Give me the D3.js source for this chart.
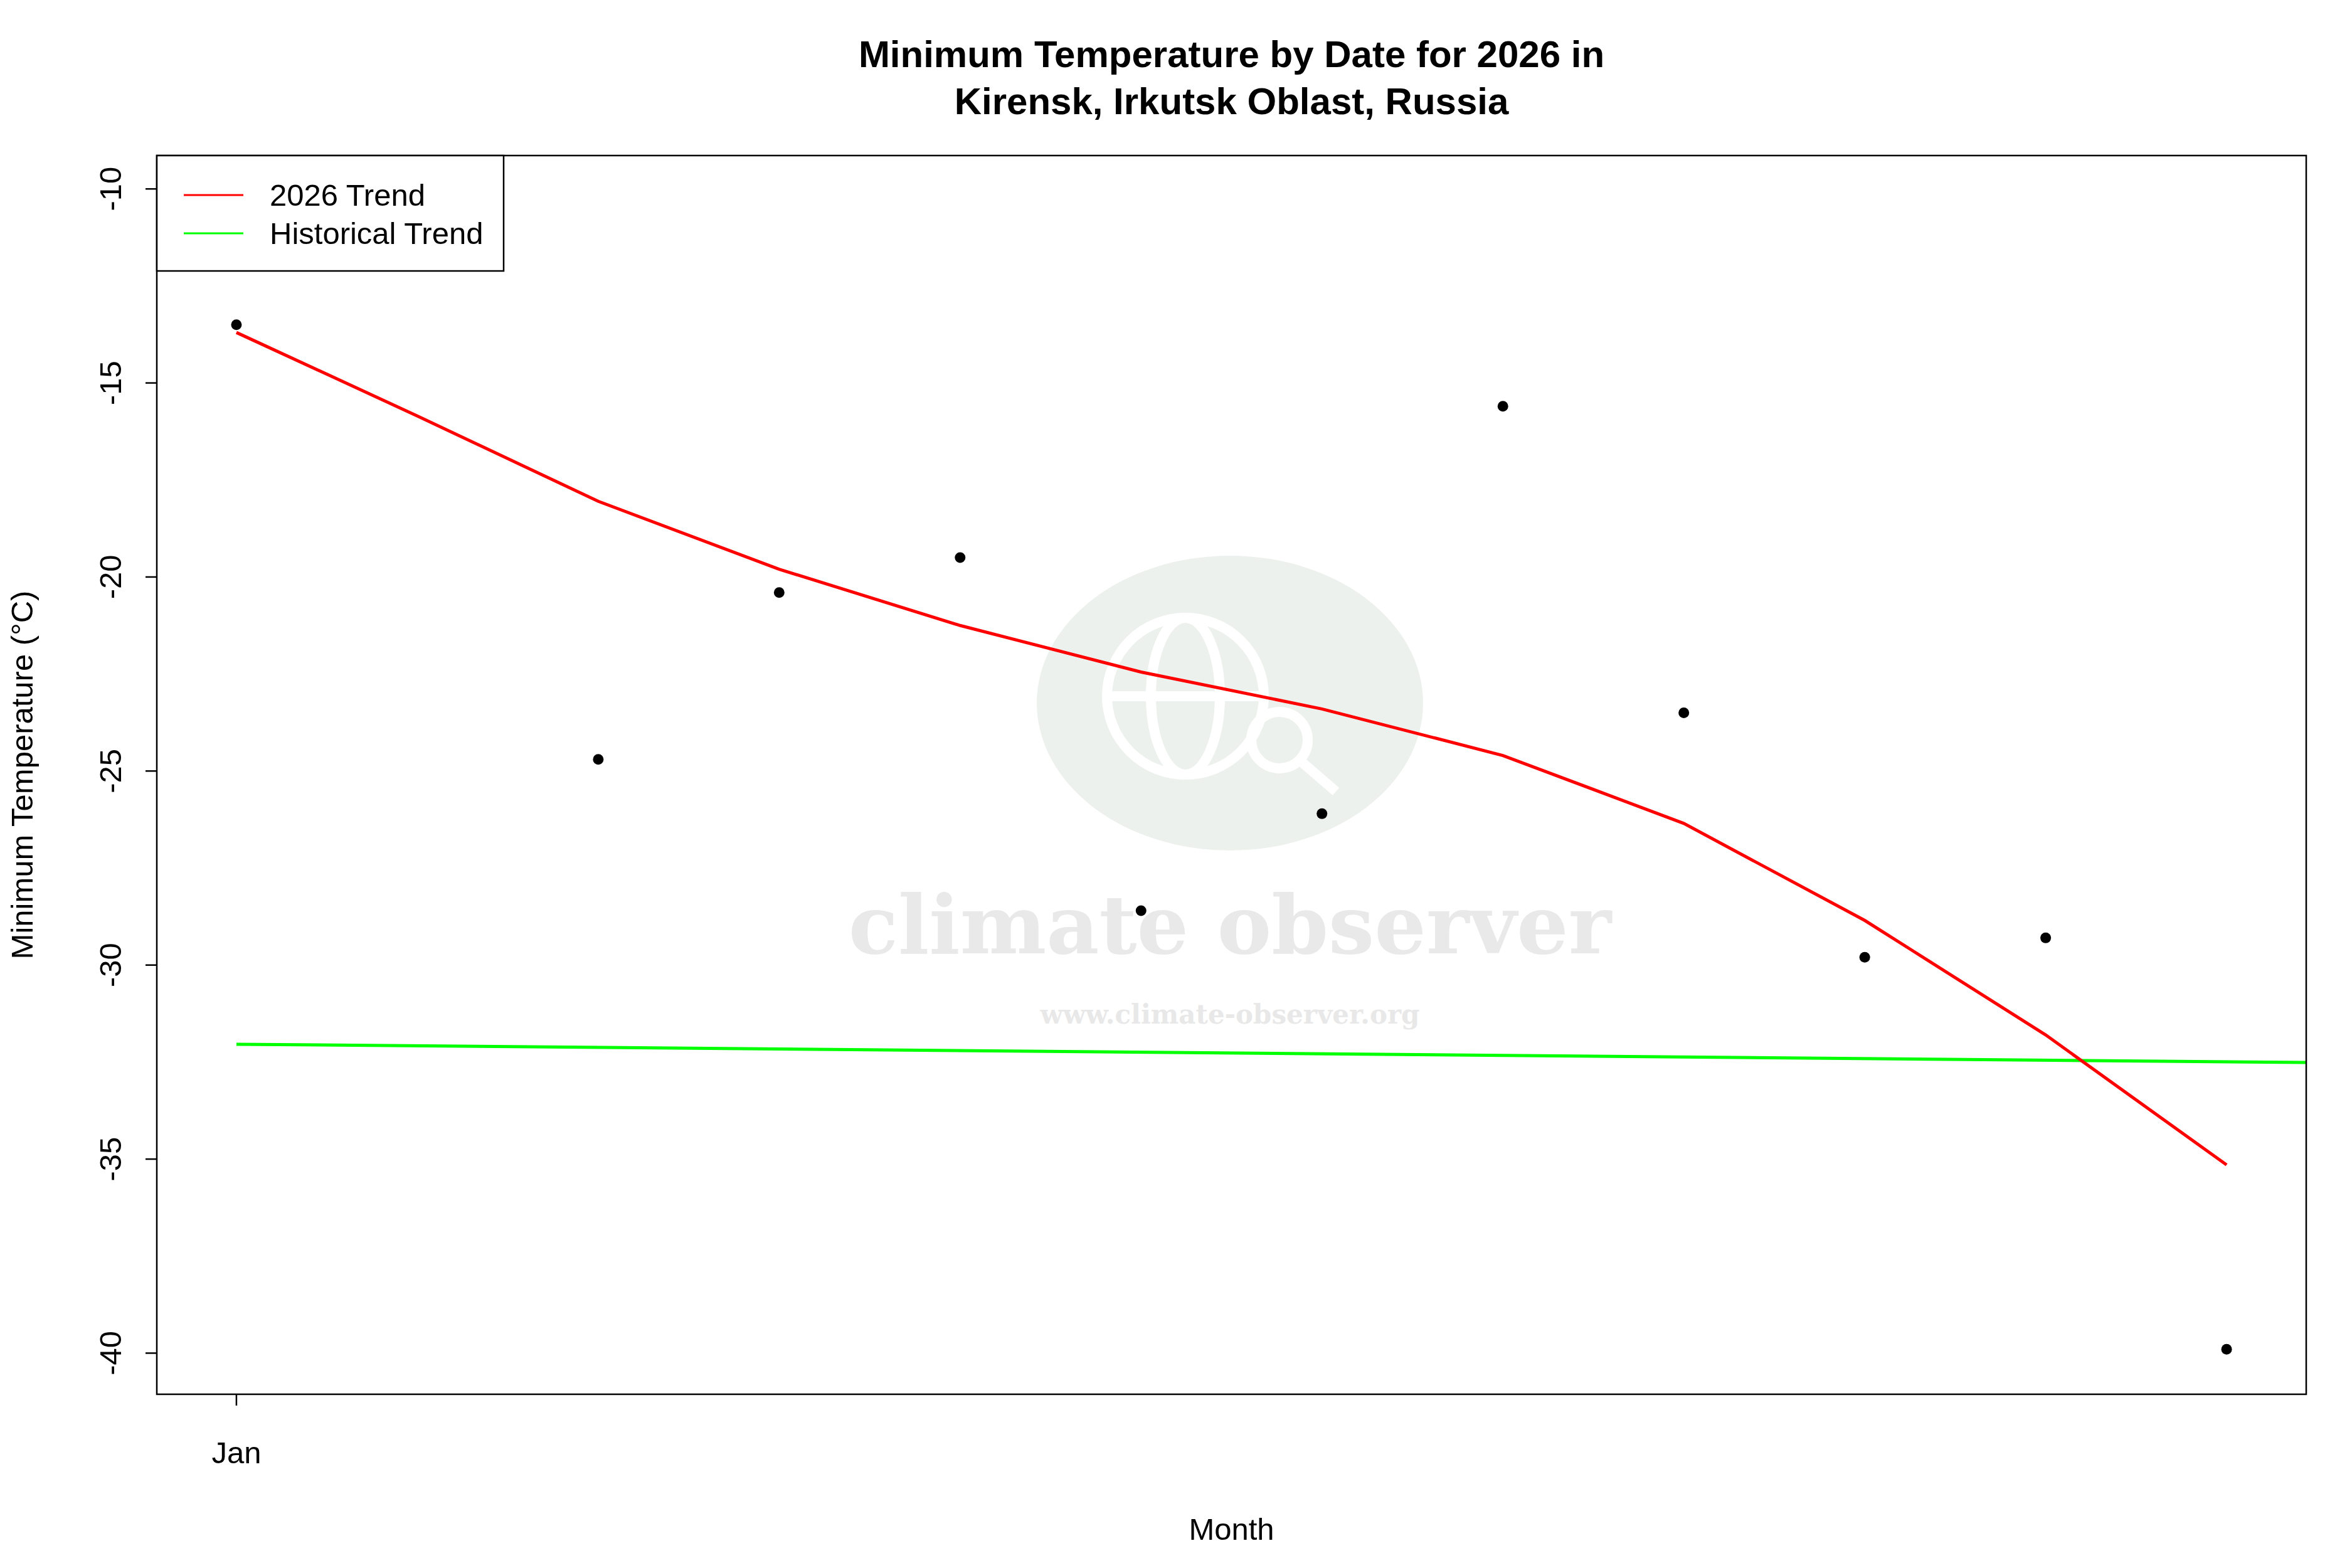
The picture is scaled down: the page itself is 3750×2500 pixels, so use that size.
<!DOCTYPE html><html><head><meta charset="utf-8"><script src="https://cdn.jsdelivr.net/npm/d3@7"></script>
<style>body{margin:0;background:#fff}</style></head><body><svg id="c" width="3750" height="2500"></svg>
<script>
const days=[1,3,4,5,6,7,8,9,10,11,12];
const temps=[-13.5,-24.7,-20.4,-19.5,-28.6,-26.1,-15.6,-23.5,-29.8,-29.3,-39.9];
const trendDays=[1,2,3,4,5,6,7,8,9,10,11,12];
const trend=[-13.7,-15.85,-18.05,-19.8,-21.25,-22.45,-23.4,-24.6,-26.35,-28.85,-31.8,-35.15];
const histDays=[1,12.44];
const hist=[-32.04,-32.51];
const yTicks=[-10,-15,-20,-25,-30,-35,-40];
const xTicks=[{v:1,l:"Jan"}];
const svg=d3.select("#c"),F="Liberation Sans, Arial, sans-serif";
const L=250,R=3677,T=248,B=2223;
const x=d3.scaleLinear().domain([0.56,12.44]).range([L,R]);
const y=d3.scaleLinear().domain([-41.06,-9.14]).range([B,T]);
// watermark
svg.append("ellipse").attr("cx",1961).attr("cy",1121).attr("rx",308).attr("ry",235).attr("fill","#edf1ed");
const g=svg.append("g").attr("fill","none").attr("stroke","#fff").attr("stroke-width",16);
g.append("circle").attr("cx",1890).attr("cy",1110).attr("r",125);
g.append("ellipse").attr("cx",1890).attr("cy",1110).attr("rx",55).attr("ry",125);
g.append("line").attr("x1",1765).attr("x2",2015).attr("y1",1110).attr("y2",1110);
g.append("circle").attr("cx",2040).attr("cy",1180).attr("r",45);
g.append("line").attr("x1",2072).attr("y1",1212).attr("x2",2130).attr("y2",1262);
svg.append("text").attr("x",1961).attr("y",1520).attr("text-anchor","middle").attr("font-family","DejaVu Serif, serif").attr("font-weight","bold").attr("font-size",130).attr("fill","#e9e9e9").text("climate observer");
svg.append("text").attr("x",1961).attr("y",1632).attr("text-anchor","middle").attr("font-family","DejaVu Serif, serif").attr("font-weight","bold").attr("font-size",42).attr("fill","#e8e8e8").text("www.climate-observer.org");
// lines
const ln=d3.line().x(d=>x(d[0])).y(d=>y(d[1]));
svg.append("path").attr("d",ln(histDays.map((d,i)=>[d,hist[i]]))).attr("stroke","#00ff00").attr("stroke-width",5).attr("fill","none");
svg.append("path").attr("d",ln(trendDays.map((d,i)=>[d,trend[i]]))).attr("stroke","#ff0000").attr("stroke-width",5).attr("fill","none");
svg.selectAll(".p").data(days).enter().append("circle").attr("cx",d=>x(d)).attr("cy",(d,i)=>y(temps[i])).attr("r",8.5).attr("fill","#000");
// box
svg.append("rect").attr("x",L).attr("y",T).attr("width",R-L).attr("height",B-T).attr("fill","none").attr("stroke","#000").attr("stroke-width",2.5);
// y axis
yTicks.forEach(v=>{svg.append("line").attr("x1",L-18).attr("x2",L).attr("y1",y(v)).attr("y2",y(v)).attr("stroke","#000").attr("stroke-width",2.5);
svg.append("text").attr("transform",`translate(${L-57},${y(v)}) rotate(-90)`).attr("text-anchor","middle").attr("font-family",F).attr("font-size",49).text(v);});
xTicks.forEach(t=>{svg.append("line").attr("x1",x(t.v)).attr("x2",x(t.v)).attr("y1",B).attr("y2",B+18).attr("stroke","#000").attr("stroke-width",2.5);
svg.append("text").attr("x",x(t.v)).attr("y",B+110).attr("text-anchor","middle").attr("font-family",F).attr("font-size",49).text(t.l);});
svg.append("text").attr("x",(L+R)/2).attr("y",2455).attr("text-anchor","middle").attr("font-family",F).attr("font-size",49).text("Month");
svg.append("text").attr("transform",`translate(52,${(T+B)/2}) rotate(-90)`).attr("text-anchor","middle").attr("font-family",F).attr("font-size",49).text("Minimum Temperature (°C)");
// title
[["Minimum Temperature by Date for 2026 in",107],["Kirensk, Irkutsk Oblast, Russia",182]].forEach(([t,yy])=>svg.append("text").attr("x",(L+R)/2).attr("y",yy).attr("text-anchor","middle").attr("font-family",F).attr("font-weight","bold").attr("font-size",60).text(t));
// legend
svg.append("rect").attr("x",L).attr("y",T).attr("width",553).attr("height",184).attr("fill","#fff").attr("stroke","#000").attr("stroke-width",2.5);
[["2026 Trend","#ff0000",311],["Historical Trend","#00ff00",372]].forEach(([t,c,yy])=>{
svg.append("line").attr("x1",293).attr("x2",388).attr("y1",yy).attr("y2",yy).attr("stroke",c).attr("stroke-width",3);
svg.append("text").attr("x",430).attr("y",yy+17).attr("font-family",F).attr("font-size",49).text(t);});
</script></body></html>
